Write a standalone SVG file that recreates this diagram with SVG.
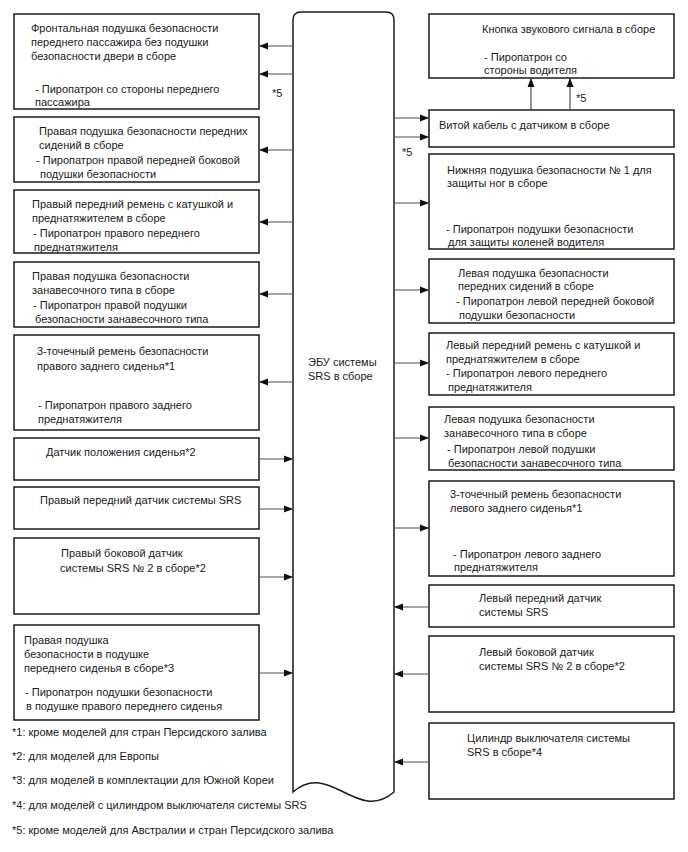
<svg xmlns="http://www.w3.org/2000/svg" width="688" height="852" viewBox="0 0 688 852">
<style>
.bx{fill:#fff;stroke:#1a1a1a;stroke-width:1.5}
text{font-family:"Liberation Sans",Arial,sans-serif;font-size:11px;fill:#1a1a1a}
.c{stroke:#4d4d4d;stroke-width:1.2;fill:none;marker-end:url(#ah)}
</style>
<defs>
<marker id="ah" markerUnits="userSpaceOnUse" markerWidth="10" markerHeight="8" refX="9" refY="4" orient="auto">
<path d="M0,0.5 L9,4 L0,7.5 Z" fill="#111"/>
</marker>
</defs>
<rect width="688" height="852" fill="#fff"/>

<g id="ecu">
<path class="bx" d="M293,792 V20 Q293,12 301,12 H386 Q394,12 394,20 V792 C357,824 330,760 293,792 Z"/>
<text x="308" y="366">ЭБУ системы</text>
<text x="308" y="380">SRS в сборе</text>
</g>

<g id="l1">
<rect class="bx" x="14" y="14" width="245" height="95"/>
<text x="31" y="32">Фронтальная подушка безопасности</text>
<text x="31" y="46">переднего пассажира без подушки</text>
<text x="31" y="60">безопасности двери в сборе</text>
<text x="35" y="93">- Пиропатрон со стороны переднего</text>
<text x="35" y="106">пассажира</text>
</g>
<g id="l2">
<rect class="bx" x="14" y="117" width="245" height="65"/>
<text x="39" y="135">Правая подушка безопасности передних</text>
<text x="39" y="149">сидений в сборе</text>
<text x="36" y="164">- Пиропатрон правой передней боковой</text>
<text x="40" y="178">подушки безопасности</text>
</g>
<g id="l3">
<rect class="bx" x="14" y="190" width="245" height="63"/>
<text x="32" y="208">Правый передний ремень с катушкой и</text>
<text x="32" y="222">преднатяжителем в сборе</text>
<text x="33" y="237">- Пиропатрон правого переднего</text>
<text x="34" y="251">преднатяжителя</text>
</g>
<g id="l4">
<rect class="bx" x="14" y="262" width="245" height="65"/>
<text x="32" y="280">Правая подушка безопасности</text>
<text x="32" y="294">занавесочного типа в сборе</text>
<text x="33" y="309">- Пиропатрон правой подушки</text>
<text x="35" y="323">безопасности занавесочного типа</text>
</g>
<g id="l5">
<rect class="bx" x="14" y="335" width="245" height="95"/>
<text x="37" y="355">3-точечный ремень безопасности</text>
<text x="37" y="370">правого заднего сиденья*1</text>
<text x="38" y="409">- Пиропатрон правого заднего</text>
<text x="38" y="423">преднатяжителя</text>
</g>
<g id="l6">
<rect class="bx" x="14" y="438" width="245" height="42"/>
<text x="46" y="456">Датчик положения сиденья*2</text>
</g>
<g id="l7">
<rect class="bx" x="14" y="487" width="245" height="42"/>
<text x="40" y="504">Правый передний датчик системы SRS</text>
</g>
<g id="l8">
<rect class="bx" x="14" y="538" width="245" height="76"/>
<text x="61" y="557">Правый боковой датчик</text>
<text x="60" y="572">системы SRS № 2 в сборе*2</text>
</g>
<g id="l9">
<rect class="bx" x="14" y="625" width="245" height="95"/>
<text x="24" y="644">Правая подушка</text>
<text x="24" y="658">безопасности в подушке</text>
<text x="24" y="672">переднего сиденья в сборе*3</text>
<text x="25" y="696">- Пиропатрон подушки безопасности</text>
<text x="26" y="710">в подушке правого переднего сиденья</text>
</g>

<g id="r1">
<rect class="bx" x="429" y="14" width="245" height="64"/>
<text x="482" y="33">Кнопка звукового сигнала в сборе</text>
<text x="484" y="61">- Пиропатрон со</text>
<text x="484" y="74">стороны водителя</text>
</g>
<g id="r2">
<rect class="bx" x="429" y="110" width="245" height="37"/>
<text x="439" y="129">Витой кабель с датчиком в сборе</text>
</g>
<g id="r3">
<rect class="bx" x="429" y="154" width="245" height="95"/>
<text x="447" y="174">Нижняя подушка безопасности № 1 для</text>
<text x="447" y="187">защиты ног в сборе</text>
<text x="446" y="233">- Пиропатрон подушки безопасности</text>
<text x="448" y="246">для защиты коленей водителя</text>
</g>
<g id="r4">
<rect class="bx" x="429" y="259" width="245" height="64"/>
<text x="458" y="277">Левая подушка безопасности</text>
<text x="458" y="290">передних сидений в сборе</text>
<text x="456" y="305">- Пиропатрон левой передней боковой</text>
<text x="459" y="319">подушки безопасности</text>
</g>
<g id="r5">
<rect class="bx" x="429" y="333" width="245" height="62"/>
<text x="446" y="349">Левый передний ремень с катушкой и</text>
<text x="446" y="363">преднатяжителем в сборе</text>
<text x="446" y="377">- Пиропатрон левого переднего</text>
<text x="448" y="391">преднатяжителя</text>
</g>
<g id="r6">
<rect class="bx" x="429" y="407" width="245" height="63"/>
<text x="444" y="423">Левая подушка безопасности</text>
<text x="444" y="437">занавесочного типа в сборе</text>
<text x="447" y="453">- Пиропатрон левой подушки</text>
<text x="448" y="467">безопасности занавесочного типа</text>
</g>
<g id="r7">
<rect class="bx" x="429" y="481" width="245" height="95"/>
<text x="450" y="498">3-точечный ремень безопасности</text>
<text x="450" y="512">левого заднего сиденья*1</text>
<text x="453" y="558">- Пиропатрон левого заднего</text>
<text x="454" y="571">преднатяжителя</text>
</g>
<g id="r8">
<rect class="bx" x="429" y="585" width="245" height="42"/>
<text x="479" y="602">Левый передний датчик</text>
<text x="479" y="616">системы SRS</text>
</g>
<g id="r9">
<rect class="bx" x="429" y="636" width="245" height="76"/>
<text x="479" y="656">Левый боковой датчик</text>
<text x="479" y="670">системы SRS № 2 в сборе*2</text>
</g>
<g id="r10">
<rect class="bx" x="429" y="723" width="245" height="76"/>
<text x="467" y="742">Цилиндр выключателя системы</text>
<text x="467" y="756">SRS в сборе*4</text>
</g>

<g id="connectors">
<path class="c" d="M293,46 H259"/>
<path class="c" d="M293,74 H259"/>
<path class="c" d="M293,150 H259"/>
<path class="c" d="M293,222 H259"/>
<path class="c" d="M293,294 H259"/>
<path class="c" d="M293,382 H259"/>
<path class="c" d="M259,459 H293"/>
<path class="c" d="M259,509 H293"/>
<path class="c" d="M259,577 H293"/>
<path class="c" d="M259,673 H293"/>
<path class="c" d="M394,118 H429"/>
<path class="c" d="M394,137 H429"/>
<path class="c" d="M531,110 V78"/>
<path class="c" d="M570,110 V78"/>
<path class="c" d="M394,203 H429"/>
<path class="c" d="M394,290 H429"/>
<path class="c" d="M394,363 H429"/>
<path class="c" d="M394,438 H429"/>
<path class="c" d="M394,528 H429"/>
<path class="c" d="M429,607 H394"/>
<path class="c" d="M429,674 H394"/>
<path class="c" d="M429,762 H394"/>
<text x="272" y="97">*5</text>
<text x="402" y="156">*5</text>
<text x="576" y="102">*5</text>
</g>

<g id="notes">
<text x="12" y="736">*1: кроме моделей для стран Персидского залива</text>
<text x="12" y="760">*2: для моделей для Европы</text>
<text x="12" y="784">*3: для моделей в комплектации для Южной Кореи</text>
<text x="12" y="809">*4: для моделей с цилиндром выключателя системы SRS</text>
<text x="12" y="834">*5: кроме моделей для Австралии и стран Персидского залива</text>
</g>
</svg>
